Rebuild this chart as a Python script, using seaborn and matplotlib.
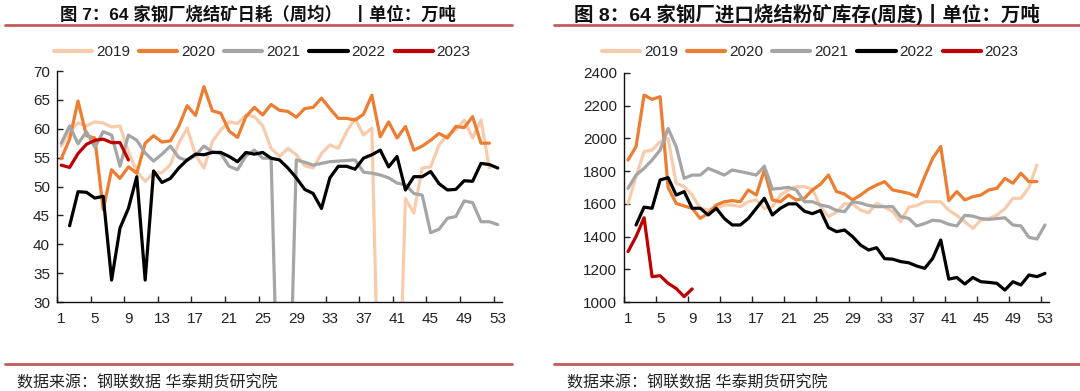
import numpy as np
import pandas as pd
import matplotlib
matplotlib.use('Agg')
import matplotlib.pyplot as plt
from matplotlib.lines import Line2D
from matplotlib.ticker import FixedLocator
import seaborn as sns

nan = np.nan
weeks = list(range(1, 54))
years = ['2019', '2020', '2021', '2022', '2023']
colors = {'2019': '#F8CBAD', '2020': '#ED7D31', '2021': '#A5A5A5',
          '2022': '#000000', '2023': '#C00000'}

# chart 7: daily sinter consumption (weekly avg), 10k t  (0 = missing week, falls off chart)
sinter_2019 = [57, 59.5, 61, 60.5, 61.2, 61, 60.3, 60.5, 56, 52.6, 50.9, 52.3, 52.4, 53.8, 57.5,
               60.1, 55.5, 53.2, 57.8, 59.8, 61.2, 60.9, 62.4, 62.1, 60.5, 56.6, 55.2, 56.6, 55.5,
               53.6, 53.2, 55.7, 57.2, 56.6, 59.5, 61.8, 58.9, 60.1, 0, 0, 0, 47.9, 45.4, 53.2,
               53.4, 57.2, 58.9, 59.8, 61.5, 58.4, 61.5, 53.2, nan]
sinter_2020 = [54.8, 58.2, 64.8, 58.8, 58.4, 46.0, 52.9, 51.4, 53.4, 52.3, 57.5, 58.8, 57.7, 57.9,
               60.4, 64.0, 62.3, 67.3, 63.1, 62.7, 59.6, 58.5, 62.1, 63.7, 62.4, 64.2, 63.2, 63.0,
               62.0, 63.5, 63.7, 65.3, 63.5, 61.8, 61.8, 61.5, 62.5, 65.8, 58.6, 61.2, 58.4, 60.4,
               56.3, 57.0, 58.0, 59.2, 58.4, 60.4, 60.2, 62.1, 57.5, 57.5, nan]
sinter_2021 = [57.5, 60.5, 57.4, 59.5, 56.8, 59.5, 58.9, 53.5, 58.9, 58.0, 55.8, 54.4, 55.6, 57.0,
               55.0, 54.5, 55.4, 57.0, 56.0, 55.7, 53.5, 52.9, 55.3, 56.3, 54.9, 54.9, 0, 0, 54.6,
               54.2, 53.7, 54.0, 54.3, 54.4, 54.5, 54.6, 52.5, 52.3, 52.0, 51.5, 50.6, 50.3, 48.8,
               48.5, 42.0, 42.6, 44.5, 44.8, 47.5, 47.2, 43.9, 43.9, 43.4]
sinter_2022 = [nan, 43.2, 49.1, 49.0, 48.0, 48.3, 33.8, 42.8, 46.2, 51.7, 33.8, 52.7, 50.7, 51.4,
               53.2, 54.6, 55.6, 55.5, 55.9, 55.9, 55.2, 54.3, 55.9, 55.6, 55.9, 54.9, 54.6, 53.2,
               51.5, 49.5, 48.8, 46.2, 51.5, 53.5, 53.5, 53.0, 54.9, 55.5, 56.3, 53.4, 55.2, 49.4,
               51.7, 51.7, 52.6, 50.5, 49.4, 49.5, 51.0, 50.9, 54.0, 53.8, 53.2]
sinter_2023 = [53.7, 53.3, 55.7, 57.3, 58.0, 58.2, 57.6, 57.6, 54.6]

# chart 8: imported sinter fines stock (weekly), 10k t
stock_2019 = [1603, 1766, 1919, 1929, 1980, 2000, 1726, 1705, 1654, 1573, 1563, 1573, 1593, 1593,
              1583, 1613, 1624, 1573, 1583, 1654, 1685, 1705, 1705, 1690, 1583, 1522, 1550, 1600,
              1600, 1562, 1545, 1603, 1580, 1552, 1491, 1580, 1590, 1613, 1613, 1613, 1560, 1530,
              1491, 1450, 1501, 1510, 1532, 1570, 1634, 1634, 1700, 1838, nan]
stock_2020 = [1868, 1950, 2265, 2239, 2255, 1700, 1603, 1587, 1573, 1511, 1542, 1593, 1613, 1620,
              1613, 1685, 1654, 1807, 1624, 1613, 1654, 1624, 1634, 1685, 1720, 1776, 1675, 1660,
              1624, 1654, 1690, 1715, 1736, 1685, 1675, 1665, 1644, 1767, 1879, 1951, 1620, 1675,
              1624, 1644, 1654, 1685, 1695, 1756, 1726, 1787, 1736, 1736, nan]
stock_2021 = [1695, 1776, 1817, 1868, 1929, 2061, 1950, 1756, 1776, 1776, 1817, 1797, 1776, 1807,
              1797, 1787, 1776, 1831, 1690, 1695, 1701, 1685, 1613, 1613, 1593, 1583, 1560, 1552,
              1613, 1605, 1590, 1583, 1583, 1583, 1522, 1511, 1465, 1480, 1500, 1495, 1475, 1465,
              1530, 1525, 1510, 1505, 1510, 1515, 1471, 1465, 1395, 1385, 1471]
stock_2022 = [nan, 1471, 1580, 1573, 1746, 1760, 1654, 1675, 1573, 1573, 1532, 1573, 1511, 1471,
              1471, 1511, 1573, 1634, 1532, 1573, 1600, 1600, 1555, 1540, 1560, 1455, 1430, 1440,
              1400, 1348, 1318, 1332, 1265, 1262, 1247, 1240, 1220, 1206, 1267, 1379, 1140, 1150,
              1110, 1150, 1124, 1120, 1114, 1073, 1124, 1104, 1165, 1155, 1175]
stock_2023 = [1308, 1400, 1515, 1155, 1161, 1114, 1083, 1033, 1080]


def long_frame(series):
    rows = []
    for yr, vals in zip(years, series):
        for w, v in zip(weeks, vals):
            if not np.isnan(v):
                rows.append({'week': w, 'value': v, 'year': yr})
    return pd.DataFrame(rows)


df7 = long_frame([sinter_2019, sinter_2020, sinter_2021, sinter_2022, sinter_2023])
df8 = long_frame([stock_2019, stock_2020, stock_2021, stock_2022, stock_2023])

sns.set_style('ticks')
plt.rcParams['font.family'] = ['Liberation Sans', 'Noto Sans CJK SC', 'DejaVu Sans']
plt.rcParams['axes.unicode_minus'] = False

fig = plt.figure(figsize=(10.8, 3.91), dpi=100)
ax1 = fig.add_axes([0.0528, 0.2276, 0.412, 0.5908])
ax2 = fig.add_axes([0.5778, 0.2276, 0.3935, 0.5857])


def draw(ax, df, ylim, yticks, leg_x, leg_y):
    sns.lineplot(data=df, x='week', y='value', hue='year', hue_order=years, palette=colors,
                 linewidth=2.3, estimator=None, sort=False, ax=ax)
    ax.set_xlim(0.5, 53.5)
    ax.set_ylim(*ylim)
    ax.set_yticks(yticks)
    ax.set_xticks(range(1, 54, 4))
    ax.xaxis.set_minor_locator(FixedLocator(np.arange(0.5, 54, 4)))
    ax.tick_params(axis='x', which='major', length=0, pad=7, labelsize=11, colors='#222222')
    ax.tick_params(axis='x', which='minor', length=4, direction='in', width=1)
    ax.tick_params(axis='y', length=4, direction='in', width=1, labelsize=11, colors='#222222', pad=5)
    ax.set_xlabel('')
    ax.set_ylabel('')
    for s in ['top', 'right']:
        ax.spines[s].set_visible(False)
    for s in ['left', 'bottom']:
        ax.spines[s].set_linewidth(1.0)
        ax.spines[s].set_color('#111111')
    sns.move_legend(ax, 'center', bbox_to_anchor=(leg_x, leg_y), ncol=5, frameon=False,
                    title=None, fontsize=11, handlelength=2.5, handletextpad=0.25,
                    columnspacing=0.6)
    for line in ax.get_legend().get_lines():
        line.set_linewidth(3)


draw(ax1, df7, (30, 70), range(30, 71, 5), 0.461, 1.082)
draw(ax2, df8, (1000, 2400), range(1000, 2401, 200), 0.438, 1.092)

title_kw = dict(ha='center', va='center', fontweight='bold', color='#111111')
fig.text(0.239, 0.964, '图 7：64 家钢厂烧结矿日耗（周均）  丨单位：万吨', fontsize=12.5, **title_kw)
fig.text(0.747, 0.964, '图 8：64 家钢厂进口烧结粉矿库存(周度)丨单位：万吨', fontsize=14, **title_kw)

rule = '#c55a5a'
for x0, x1 in [(0.005, 0.474), (0.513, 1.0)]:
    fig.add_artist(Line2D([x0, x1], [0.936, 0.936], color=rule, lw=2))
    fig.add_artist(Line2D([x0, x1], [0.069, 0.069], color=rule, lw=2))

src_kw = dict(ha='left', va='center', fontsize=11.5, color='#222222')
fig.text(0.016, 0.022, '数据来源：钢联数据 华泰期货研究院', **src_kw)
fig.text(0.525, 0.022, '数据来源：钢联数据 华泰期货研究院', **src_kw)

fig.savefig('out.png', dpi=100)
